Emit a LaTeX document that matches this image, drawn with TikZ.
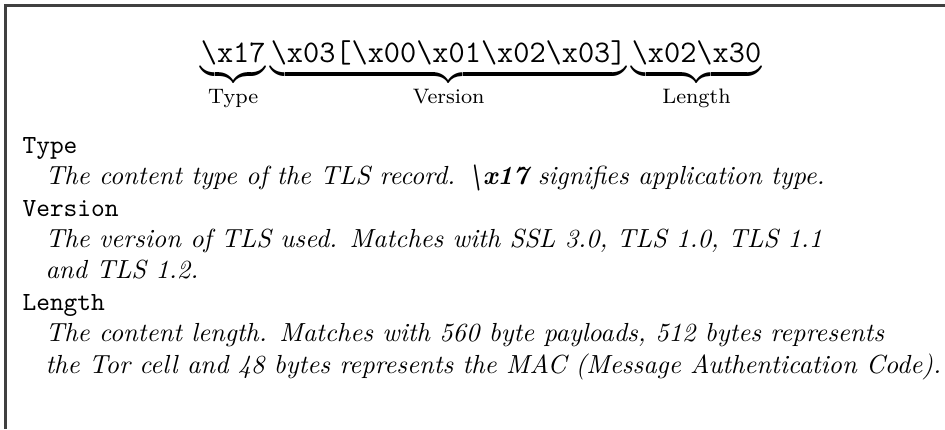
\documentclass[tikz,border=0pt]{standalone}
\usepackage{amsmath}
\newcommand{\bs}{\textbackslash}
\begin{document}
\begin{tikzpicture}[x=0.38212pt,y=-0.38212pt,
  frameline/.style={line width=0.8pt,black!75},
  fieldname/.style={anchor=base west,inner sep=0pt,font=\ttfamily},
  fielddesc/.style={anchor=base west,inner sep=0pt,font=\itshape}]
\useasboundingbox (0,0) rectangle (945,429);
% open frame: top and left edges
\draw[frameline] (5.5,429) -- (5.5,5.5) -- (945,5.5);
% record header bytes with braces
\node[anchor=base,inner sep=0pt,font=\large] (rec) at (481,62)
  {$\underbrace{\texttt{\bs x17}}_{\text{Type}}\underbrace{\texttt{\bs x03[\bs x00\bs x01\bs x02\bs x03]}}_{\text{Version}}\underbrace{\texttt{\bs x02\bs x30}}_{\text{Length}}$};
% field descriptions
\node[fieldname] (t)  at (22,153.3) {Type};
\node[fielddesc] (t1) at (45,184.7) {The content type of the TLS record. \textbf{\bs x17} signifies application type.};
\node[fieldname] (v)  at (22,216.1) {Version};
\node[fielddesc] (v1) at (45,247.5) {The version of TLS used. Matches with SSL 3.0, TLS 1.0, TLS 1.1};
\node[fielddesc] (v2) at (45,278.9) {and TLS 1.2.};
\node[fieldname] (l)  at (22,310.3) {Length};
\node[fielddesc] (l1) at (45,341.7) {The content length. Matches with 560 byte payloads, 512 bytes represents};
\node[fielddesc] (l2) at (45,373.1) {the Tor cell and 48 bytes represents the MAC (Message Authentication Code).};
\end{tikzpicture}
\end{document}
